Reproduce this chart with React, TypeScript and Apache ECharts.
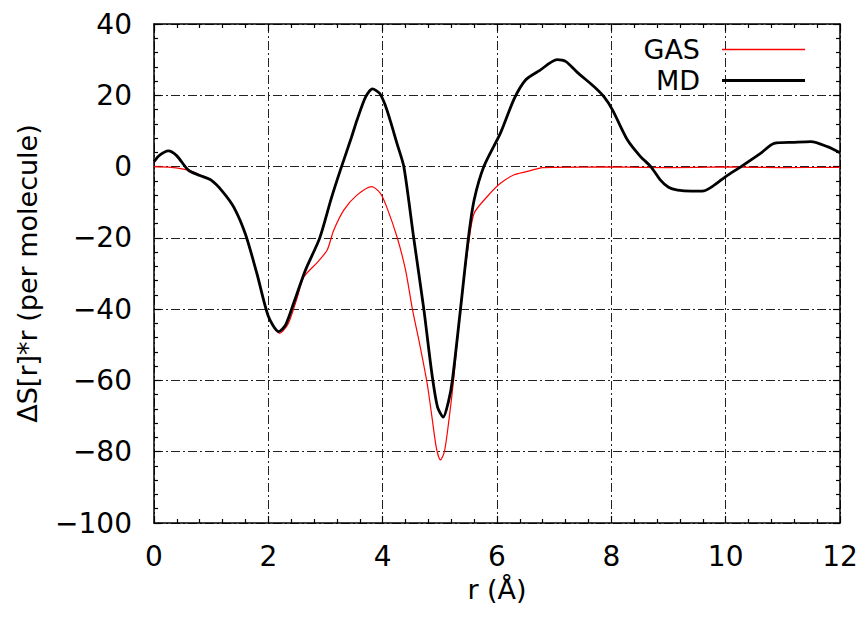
import React, { useEffect, useRef } from "react";
import * as echarts from "echarts";

const mdR = [0, 0.1, 0.25, 0.4, 0.6, 0.8, 1.0, 1.2, 1.4, 1.6, 1.8, 2.0, 2.18, 2.3, 2.45, 2.65, 2.9, 3.1, 3.26, 3.45, 3.55, 3.7, 3.82, 3.95, 4.05, 4.15, 4.25, 4.37, 4.54, 4.72, 4.86, 4.96, 5.06, 5.15, 5.22, 5.36, 5.5, 5.6, 5.77, 6.06, 6.3, 6.5, 6.75, 7.05, 7.2, 7.4, 7.7, 7.87, 8.02, 8.28, 8.51, 8.69, 8.86, 9.0, 9.16, 9.4, 9.62, 9.8, 10.0, 10.27, 10.61, 10.85, 11.2, 11.49, 11.78, 12];
const mdV = [1.4, 3.2, 4.4, 3.0, -1, -2.5, -3.8, -7, -11.5, -19, -30, -42, -46.3, -44.5, -38, -29, -20, -9, -1, 8, 13, 19.5, 21.8, 20.5, 17, 12, 6.5, 0, -19.7, -40, -58, -67.5, -70.3, -66, -59.9, -40.2, -20, -9.4, 0, 9.4, 19, 24.3, 27, 30, 29.5, 26.5, 22.4, 19.6, 15.9, 7.5, 2.8, 0, -3.8, -5.8, -6.6, -6.9, -6.8, -5.2, -2.8, 0, 3.7, 6.5, 6.8, 7, 5.6, 3.9];

const gasR = [0, 0.3, 0.6, 0.8, 1.0, 1.2, 1.4, 1.6, 1.8, 2.0, 2.2, 2.35, 2.5, 2.62, 2.85, 3.03, 3.14, 3.32, 3.55, 3.81, 3.96, 4.07, 4.25, 4.4, 4.52, 4.65, 4.78, 4.86, 4.94, 5.01, 5.08, 5.16, 5.24, 5.36, 5.5, 5.6, 5.83, 6.06, 6.3, 6.5, 6.8, 7.0, 8.0, 9.0, 10.0, 11.0, 12.0];
const gasV = [0, -0.2, -1, -2.3, -3.8, -7, -11.5, -19, -30, -42, -46.8, -44, -37, -31, -27, -23.4, -18, -12.2, -8, -5.6, -7.5, -11.3, -19.7, -29, -40, -50, -61, -70, -79, -82.3, -80, -71, -60, -40, -22, -13.1, -8.4, -4.7, -2.3, -1.5, -0.3, -0.2, -0.1, -0.3, -0.1, -0.3, -0.2];

const FONT = "'DejaVu Sans', 'Liberation Sans', Arial, sans-serif";
const gridLine = { show: true, lineStyle: { color: "#222", width: 1, type: [9, 3, 2, 3] } };
const minusFmt = (v: number) => (v < 0 ? "\u2212" + Math.abs(v) : String(v));

export default function App() {
  const ref = useRef<HTMLDivElement>(null);
  useEffect(() => {
    if (!ref.current) return;
    const chart = echarts.init(ref.current, undefined, { renderer: "svg" });
    const axisCommon = {
      axisLine: { show: true, onZero: false, lineStyle: { color: "#000", width: 1.5 } },
      axisTick: { show: true, inside: true, length: 7, lineStyle: { color: "#000", width: 1.2 } },
      minorTick: { show: true, splitNumber: 5, length: 4, lineStyle: { color: "#000", width: 1.2 } },
    };
    chart.setOption({
      animation: false,
      backgroundColor: "#fff",
      textStyle: { fontFamily: FONT },
      grid: { left: 154, right: 24, top: 24, bottom: 99 },
      legend: {
        orient: "vertical",
        right: 54,
        top: 31,
        align: "right",
        itemWidth: 83,
        itemHeight: 20,
        itemGap: 4,
        textStyle: { fontFamily: FONT, fontSize: 27, color: "#000", padding: [0, 17, 0, 0] },
        data: [
          { name: "GAS", icon: "path://M0,0 L83,0 L83,1.5 L0,1.5 Z" },
          { name: "MD", icon: "path://M0,0 L83,0 L83,3 L0,3 Z" },
        ],
      },
      xAxis: [
        {
          type: "value", min: 0, max: 12, interval: 2, position: "bottom",
          ...axisCommon,
          splitLine: gridLine,
          axisLabel: { fontFamily: FONT, fontSize: 28, color: "#000", margin: 19 },
          name: "r (Å)", nameLocation: "middle", nameGap: 53,
          nameTextStyle: { fontFamily: FONT, fontSize: 27, color: "#000" },
        },
        {
          type: "value", min: 0, max: 12, interval: 2, position: "top",
          ...axisCommon,
          splitLine: { show: false },
          axisLabel: { show: false },
        },
      ],
      yAxis: [
        {
          type: "value", min: -100, max: 40, interval: 20, position: "left",
          ...axisCommon,
          splitLine: gridLine,
          axisLabel: { fontFamily: FONT, fontSize: 28, color: "#000", margin: 22, formatter: minusFmt },
          name: "ΔS[r]*r (per molecule)", nameLocation: "middle", nameGap: 113,
          nameTextStyle: { fontFamily: FONT, fontSize: 27, color: "#000" },
        },
        {
          type: "value", min: -100, max: 40, interval: 20, position: "right",
          ...axisCommon,
          splitLine: { show: false },
          axisLabel: { show: false },
        },
      ],
      series: [
        {
          name: "GAS", type: "line", smooth: 0.25, symbol: "none",
          lineStyle: { color: "#ff0000", width: 1.2 },
          itemStyle: { color: "#ff0000" },
          data: gasR.map((r, i) => [r, gasV[i]]),
          z: 3,
        },
        {
          name: "MD", type: "line", smooth: 0.25, symbol: "none",
          lineStyle: { color: "#000", width: 2.8 },
          itemStyle: { color: "#000" },
          data: mdR.map((r, i) => [r, mdV[i]]),
          z: 4,
        },
      ],
    });
    return () => chart.dispose();
  }, []);
  return <div ref={ref} style={{ width: 864, height: 622, position: "fixed", left: 0, top: 0 }} />;
}
